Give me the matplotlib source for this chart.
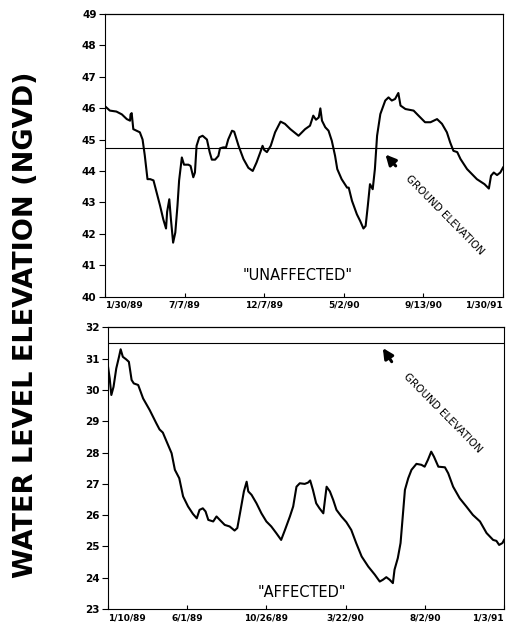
"""Hydrograph pair: water level at an unaffected and an affected well vs ground elevation."""

import matplotlib

matplotlib.use("Agg")
import matplotlib.pyplot as plt

# --- data -----------------------------------------------------------------
# "UNAFFECTED" well, days since 1/30/89
top_days = [0, 9, 21, 31, 40, 46, 47, 49, 52, 58, 64, 69, 73, 78, 83, 89, 95, 101,
            107, 112, 114, 118, 121, 125, 129, 133, 136, 141, 145, 153, 157, 162,
            165, 168, 173, 179, 187, 192, 196, 202, 208, 211, 217, 222, 226, 233,
            237, 245, 254, 263, 271, 278, 285, 289, 292, 297, 304, 312, 322, 330,
            340, 355, 367, 376, 382, 387, 392, 395, 398, 404, 410, 416, 422, 426,
            434, 444, 447, 453, 462, 468, 474, 478, 482, 486, 491, 495, 499, 505,
            514, 520, 526, 532, 537, 538, 542, 551, 566, 575, 587, 597, 609, 618,
            627, 633, 639, 646, 652, 664, 682, 696, 704, 708, 713, 719, 725, 730]
top_level = [46.06, 45.92, 45.89, 45.80, 45.65, 45.60, 45.80, 45.84, 45.33, 45.28,
             45.23, 45.00, 44.50, 43.74, 43.74, 43.70, 43.30, 42.90, 42.46, 42.17,
             42.70, 43.10, 42.46, 41.72, 42.04, 42.90, 43.70, 44.43, 44.20, 44.20,
             44.16, 43.80, 43.95, 44.80, 45.07, 45.12, 45.00, 44.60, 44.36, 44.36,
             44.48, 44.72, 44.75, 44.75, 45.00, 45.28, 45.25, 44.80, 44.38, 44.10,
             44.00, 44.27, 44.60, 44.80, 44.67, 44.60, 44.80, 45.23, 45.57, 45.50,
             45.33, 45.12, 45.33, 45.44, 45.76, 45.63, 45.70, 45.99, 45.60, 45.39,
             45.28, 44.96, 44.48, 44.06, 43.74, 43.47, 43.47, 43.05, 42.62, 42.41,
             42.17, 42.25, 42.89, 43.58, 43.42, 44.06, 45.12, 45.81, 46.24, 46.34,
             46.24, 46.29, 46.45, 46.48, 46.08, 45.97, 45.92, 45.76, 45.55, 45.55,
             45.65, 45.50, 45.23, 44.91, 44.64, 44.60, 44.38, 44.06, 43.74, 43.58,
             43.44, 43.85, 43.95, 43.87, 43.95, 44.11]
top_ground = 44.72
top_span = 730
top_ticklabels = ["1/30/89", "7/7/89", "12/7/89", "5/2/90", "9/13/90", "1/30/91"]

# "AFFECTED" well, days since 1/10/89
bot_days = [0, 3, 6, 10, 15, 20, 23, 27, 33, 38, 43, 47, 55, 64, 76, 88, 94, 100,
            107, 116, 122, 130, 137, 146, 155, 162, 167, 173, 178, 183, 192, 198,
            204, 213, 222, 231, 236, 242, 248, 253, 256, 262, 271, 280, 289, 298,
            307, 316, 323, 332, 338, 344, 350, 359, 365, 369, 374, 380, 386, 393,
            396, 399, 405, 411, 417, 426, 435, 444, 453, 463, 475, 487, 496, 502,
            508, 514, 520, 523, 529, 534, 539, 542, 548, 554, 563, 572, 578, 584,
            590, 595, 603, 615, 621, 630, 642, 654, 666, 679, 691, 703, 709, 714,
            720, 723]
bot_level = [30.74, 30.37, 29.84, 30.10, 30.69, 31.06, 31.30, 31.06, 30.98, 30.90,
             30.32, 30.21, 30.16, 29.73, 29.36, 28.94, 28.74, 28.64, 28.35, 27.98,
             27.45, 27.18, 26.60, 26.28, 26.04, 25.90, 26.17, 26.22, 26.12, 25.85,
             25.80, 25.96, 25.85, 25.69, 25.64, 25.51, 25.59, 26.17, 26.76, 27.07,
             26.76, 26.65, 26.38, 26.06, 25.80, 25.64, 25.43, 25.21, 25.53, 25.96,
             26.28, 26.91, 27.02, 27.00, 27.04, 27.11, 26.81, 26.38, 26.22, 26.06,
             26.49, 26.91, 26.76, 26.49, 26.17, 25.96, 25.78, 25.53, 25.11, 24.68,
             24.36, 24.10, 23.88, 23.94, 24.02, 23.94, 23.83, 24.26, 24.63, 25.11,
             26.17, 26.81, 27.18, 27.45, 27.64, 27.61, 27.55, 27.77, 28.03, 27.87,
             27.55, 27.53, 27.34, 26.91, 26.54, 26.28, 26.01, 25.80, 25.43, 25.21,
             25.18, 25.05, 25.11, 25.21]
bot_ground = 31.5
bot_span = 723
bot_ticklabels = ["1/10/89", "6/1/89", "10/26/89", "3/22/90", "8/2/90", "1/3/91"]

fig = plt.figure(figsize=(5.17, 6.26), dpi=100)
ax_top = fig.add_axes([0.203, 0.526, 0.770, 0.452])
ax_bot = fig.add_axes([0.209, 0.027, 0.766, 0.450])


def style(ax, span, ticklabels, ylo, yhi):
    ax.set_xlim(0, span)
    ax.set_ylim(ylo, yhi)
    ax.set_xticks([span * i / 5 for i in range(6)])
    ax.set_xticklabels(ticklabels, fontsize=6.5, fontweight="bold")
    ax.set_yticks(range(ylo, yhi + 1))
    ax.tick_params(axis="y", direction="out", length=4, width=0.8, labelsize=7.5, pad=2)
    ax.tick_params(axis="x", direction="in", length=3, width=0.8, pad=3)
    for t in ax.get_yticklabels():
        t.set_fontweight("bold")
    labels = ax.get_xticklabels()
    labels[0].set_ha("left")
    labels[-1].set_ha("right")
    for side in ("left", "bottom", "right"):
        ax.spines[side].set_linestyle((0, (5, 1)))
        ax.spines[side].set_linewidth(0.8)
    ax.spines["top"].set_linewidth(0.9)


def ground_arrow(ax, tip, tail):
    ax.annotate("", xy=tip, xytext=tail, xycoords="axes fraction",
                arrowprops=dict(arrowstyle="-|>,head_length=0.6,head_width=0.3",
                                color="black", lw=2.2))


ax_top.plot(top_days, top_level, color="black", lw=1.5)
ax_top.axhline(top_ground, color="black", lw=0.8)
style(ax_top, top_span, top_ticklabels, 40, 49)
ax_top.text(0.485, 0.075, '"UNAFFECTED"', transform=ax_top.transAxes, ha="center",
            va="center", fontsize=10.5)
ground_arrow(ax_top, (0.70, 0.51), (0.735, 0.455))
ax_top.text(0.853, 0.29, "GROUND ELEVATION", transform=ax_top.transAxes, rotation=-45.5,
            ha="center", va="center", fontsize=7.5, rotation_mode="anchor")

ax_bot.plot(bot_days, bot_level, color="black", lw=1.5)
ax_bot.axhline(bot_ground, color="black", lw=0.8)
style(ax_bot, bot_span, bot_ticklabels, 23, 32)
ax_bot.text(0.49, 0.06, '"AFFECTED"', transform=ax_bot.transAxes, ha="center",
            va="center", fontsize=10.5)
ground_arrow(ax_bot, (0.69, 0.935), (0.72, 0.87))
ax_bot.text(0.845, 0.695, "GROUND ELEVATION", transform=ax_bot.transAxes, rotation=-45.5,
            ha="center", va="center", fontsize=7.5, rotation_mode="anchor")

fig.text(0.05, 0.481, "WATER LEVEL ELEVATION (NGVD)", rotation=90, ha="center",
         va="center", fontsize=19.5, fontweight="bold")

fig.savefig("out.png", dpi=100)
plt.close(fig)
